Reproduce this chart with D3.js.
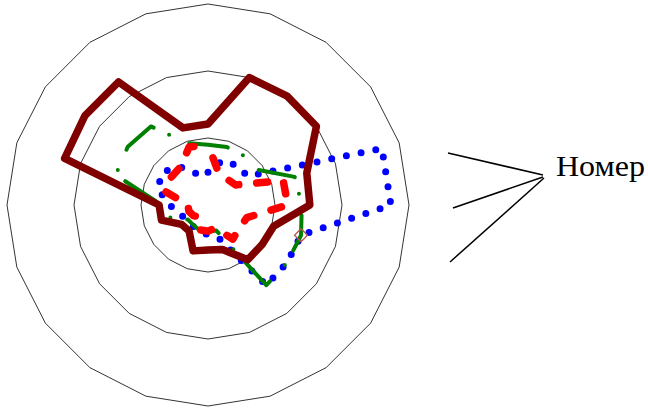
<!DOCTYPE html>
<html><head><meta charset="utf-8">
<script src="https://cdn.jsdelivr.net/npm/d3@7"></script>
<style>html,body{margin:0;padding:0;background:#fff;} svg{display:block}</style>
</head><body>
<svg id="chart" width="648" height="409"></svg>
<script>
const categories = ["1","2","3","4","5","6","7","8","9","10","11","12","13","14","15","16","17","18","19","20"];
const ringLevels = [10, 20, 30];
const legendTitle = "Номер";
const seriesDarkRed = [12.1, 20, 20.1, 20, 15.5, 15.2, 10.3, 10, 10.1, 7, 6.7, 7.2, 4.8, 4.9, 7.3, 7.3, 22.5, 22.7, 22.7, 12.1];
const seriesBlue    = [4.9, 7, 7.3, 7.3, 27.3, 27.3, 14.6, 14.6, 14.8, 5.2, 4.5, 3.9, 3.9, 3.7, 4.5, 5.7, 7.9, 8.4, 7, 4.8];
const seriesRed     = [9, 5.1, 4.8, 5.1, 11.8, 11.9, 6.1, 5.8, 6.3, 3.6, 3.9, 3.9, 2.2, 2.7, 3, 3, 6.9, 6.9, 7, 9.1];
const seriesGreen   = [9, 9.1, 9.1, 9, 13.6, 14, 14.6, 14.6, 14.8, 4, 4, 4, 3.7, 3.7, 6, 6.9, 14.5, 14.8, 14.5, 9.7];
const markerCategory = 6;
const markerValue = 14.6;

const svg = d3.select("#chart");
const cx = 208, cy = 205, R = 201;
const rScale = d3.scaleLinear().domain([0, 30]).range([0, R]);
const angle = d3.scaleLinear().domain([0, categories.length]).range([0, 2 * Math.PI]);
const g = svg.append("g").attr("transform", `translate(${cx},${cy})`);

const radial = d3.lineRadial()
  .angle((d, i) => angle(i))
  .radius(d => rScale(d))
  .curve(d3.curveLinearClosed);

ringLevels.forEach(level => {
  g.append("path")
    .attr("d", radial(categories.map(() => level)))
    .attr("fill", "none")
    .attr("stroke", "#000")
    .attr("stroke-width", 0.8);
});

const series = [
  { values: seriesBlue, color: "#0000ff", width: 7, dash: "0,15", offset: 0 },
  { values: seriesGreen, color: "#008000", width: 4, dash: "37,17,0,22", offset: 17 },
  { values: seriesRed, color: "#ff0000", width: 7.5, dash: "11,18", offset: 15 },
  { values: seriesDarkRed, color: "#800000", width: 7.5, dash: null, offset: 0 }
];

series.forEach(s => {
  const p = g.append("path")
    .attr("d", radial(s.values))
    .attr("fill", "none")
    .attr("stroke", s.color)
    .attr("stroke-width", s.width)
    .attr("stroke-linecap", "round")
    .attr("stroke-linejoin", "round");
  if (s.dash) p.attr("stroke-dasharray", s.dash).attr("stroke-dashoffset", s.offset);
});

// diamond marker
const ma = angle(markerCategory), mr = rScale(markerValue);
const mx = mr * Math.sin(ma), my = -mr * Math.cos(ma);
const ds = 6.5;
g.append("path")
  .attr("d", `M${mx},${my - ds}L${mx + ds},${my}L${mx},${my + ds}L${mx - ds},${my}Z`)
  .attr("fill", "none")
  .attr("stroke", "#b05a50")
  .attr("stroke-width", 1.3);

// legend
const leg = svg.append("g");
[[448, 153, 543, 175], [453, 208, 543, 177], [450, 262, 544, 178]].forEach(l => {
  leg.append("line").attr("x1", l[0]).attr("y1", l[1]).attr("x2", l[2]).attr("y2", l[3])
    .attr("stroke", "#000").attr("stroke-width", 1.5);
});
leg.append("text").attr("x", 556).attr("y", 176)
  .attr("font-family", "'Liberation Serif', 'Times New Roman', serif")
  .attr("font-size", 29)
  .attr("textLength", 89)
  .attr("lengthAdjust", "spacingAndGlyphs")
  .attr("fill", "#000")
  .text(legendTitle);
</script>
</body></html>
